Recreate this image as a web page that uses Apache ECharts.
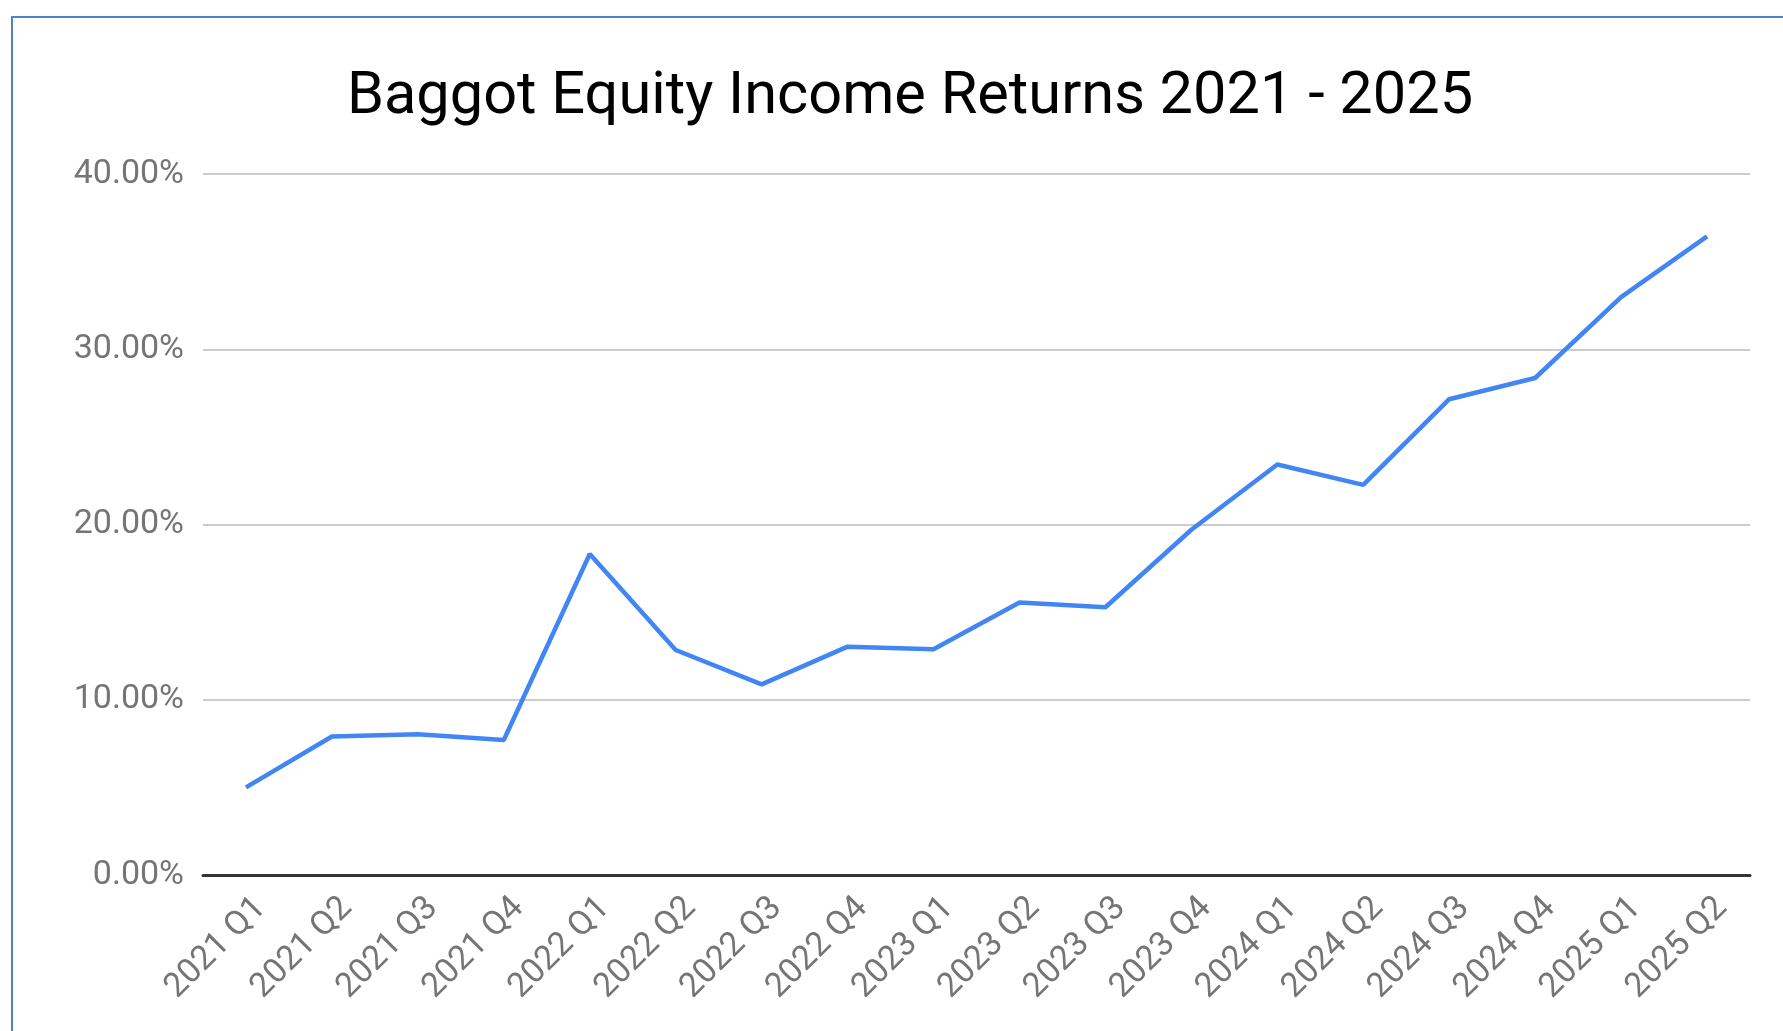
<!DOCTYPE html>
<html>
<head>
<meta charset="utf-8">
<title>Baggot Equity Income Returns</title>
<script src="https://cdn.jsdelivr.net/npm/echarts@6/dist/echarts.min.js"></script>
<style>
  html, body { margin: 0; padding: 0; background: #fff; }
  #chart { width: 1783px; height: 1031px; }
</style>
</head>
<body>
<div id="chart"></div>
<script>
// quarters on the x axis
const quarters = [
  '2021 Q1', '2021 Q2', '2021 Q3', '2021 Q4',
  '2022 Q1', '2022 Q2', '2022 Q3', '2022 Q4',
  '2023 Q1', '2023 Q2', '2023 Q3', '2023 Q4',
  '2024 Q1', '2024 Q2', '2024 Q3', '2024 Q4',
  '2025 Q1', '2025 Q2'
]
// cumulative return, percent
const returns = [
  5.0, 7.9, 8.03, 7.7,
  18.32, 12.84, 10.88, 13.03,
  12.88, 15.55, 15.28, 19.7,
  23.42, 22.26, 27.15, 28.36,
  32.97, 36.44
]
const yTicks = [0, 10, 20, 30, 40]

const labelText = {
  color: '#757575',
  fontFamily: 'Roboto',
  fontSize: 34
}

const myChart = echarts.init(document.getElementById('chart'))
const option = {
  backgroundColor: '#ffffff',
  animation: false,
  title: {
    text: 'Baggot Equity Income Returns 2021 - 2025',
    left: 905,
    top: 64,
    textAlign: 'center',
    textStyle: {
      fontFamily: 'Roboto',
      fontSize: 59.5,
      lineHeight: 59,
      fontWeight: 'normal',
      color: '#000000'
    }
  },
  graphic: [
    {
      // blue frame round the chart (cropped right and bottom)
      type: 'rect',
      shape: { x: 12, y: 17, width: 1800, height: 1100 },
      style: { fill: 'none', stroke: '#4f81c7', lineWidth: 2 },
      silent: true
    }
  ],
  grid: [
    { left: 203, right: 33, top: 174, bottom: 156 },
    // same plot, nudged right: the rotated quarter labels sit a bit right of their points
    { left: 218, right: 18, top: 174, bottom: 156 }
  ],
  xAxis: [
    {
      type: 'category',
      data: quarters,
      boundaryGap: true,
      axisLine: { lineStyle: { color: '#333333', width: 3 } },
      axisTick: { show: false },
      axisLabel: { show: false }
    },
    {
      type: 'category',
      gridIndex: 1,
      data: quarters,
      boundaryGap: true,
      axisLine: { show: false },
      axisTick: { show: false },
      axisLabel: Object.assign({ rotate: 45, interval: 0, margin: 28 }, labelText)
    }
  ],
  yAxis: [
    {
      type: 'value',
      min: yTicks[0],
      max: yTicks[yTicks.length - 1],
      interval: 10,
      axisLine: { show: false },
      axisTick: { show: false },
      splitLine: { lineStyle: { color: '#cccccc', width: 2 } },
      axisLabel: Object.assign({
        margin: 19,
        formatter: v => v.toFixed(2) + '%'
      }, labelText)
    },
    {
      type: 'value',
      gridIndex: 1,
      min: yTicks[0],
      max: yTicks[yTicks.length - 1],
      show: false
    }
  ],
  series: [
    {
      name: 'Returns',
      type: 'line',
      data: returns,
      symbol: 'none',
      lineStyle: { color: '#4285f4', width: 4.5 },
      itemStyle: { color: '#4285f4' }
    }
  ]
}
myChart.setOption(option)
</script>
</body>
</html>
